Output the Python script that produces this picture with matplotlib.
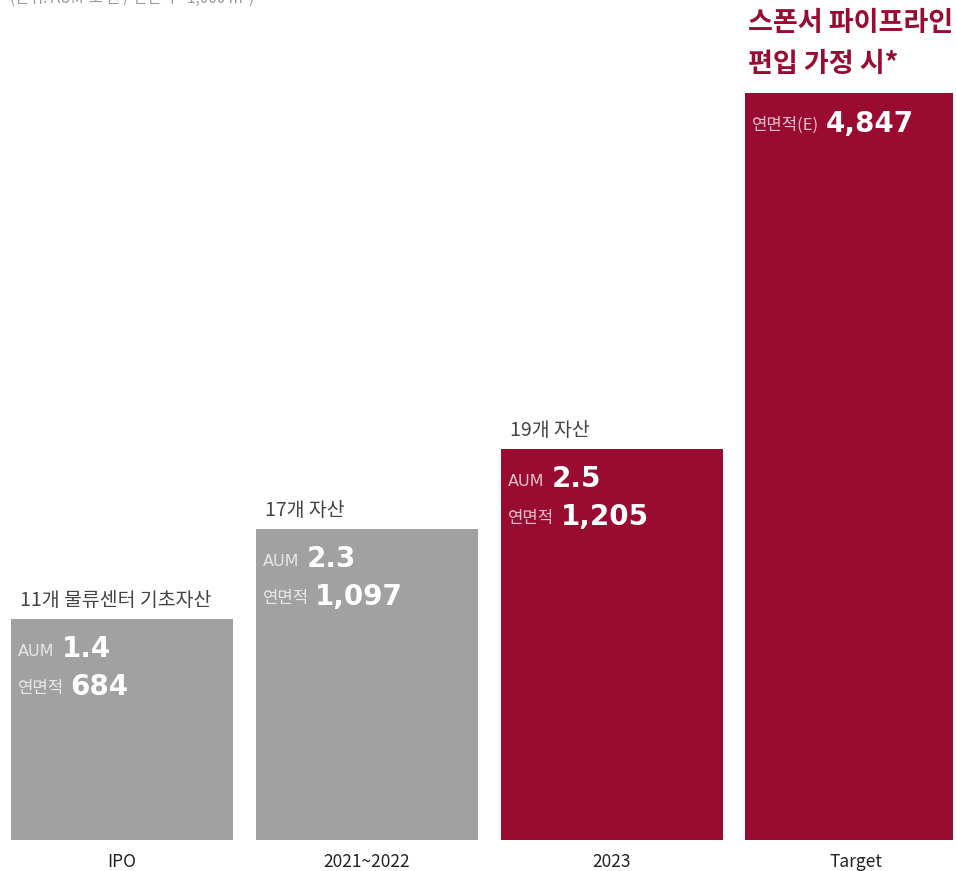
import matplotlib.pyplot as plt

plt.rcParams['font.family'] = ['Noto Sans CJK KR', 'DejaVu Sans']

# data
categories = ['IPO', '2021~2022', '2023', 'Target']
headers = ['11개 물류센터 기초자산', '17개 자산', '19개 자산', None]
aum = ['1.4', '2.3', '2.5', None]
gfa_labels = ['연면적', '연면적', '연면적', '연면적(E)']
gfa = ['684', '1,097', '1,205', '4,847']
# bar heights as drawn in the chart (stylised, not to scale with values)
bar_heights = [221, 311, 391, 747]

grey = '#a0a1a0'
crimson = '#990b31'
colors = [grey, grey, crimson, crimson]

W, H = 957, 871
fig = plt.figure(figsize=(W / 100, H / 100), dpi=100)
base = 840
ax = fig.add_axes([0, (H - base) / H, 953 / W, base / H])
ax.set_xlim(0, 953)
ax.set_ylim(0, base)

centers = [122, 367, 612, 856]
width = 222
ax.bar(centers, bar_heights, width=width, color=colors, zorder=2)

for i, c in enumerate(centers):
    left = c - width / 2
    top = bar_heights[i]
    if headers[i]:
        ax.text(left + 9, top + 19, headers[i], fontsize=14, color='#444444',
                fontweight='medium', va='center', ha='left')
    y = top - 32
    if aum[i]:
        t = ax.annotate('AUM', (left + 7, y), fontsize=11.5, color='white', alpha=0.75,
                        family='DejaVu Sans', va='center', ha='left')
        ax.annotate(aum[i], xy=(1, 0.5), xycoords=t, xytext=(5, 1.5),
                    textcoords='offset points', fontsize=20, fontweight='bold',
                    family='DejaVu Sans', color='white', va='center', ha='left')
        y -= 37
    t = ax.annotate(gfa_labels[i], (left + 7, y), fontsize=12, color='white', alpha=0.75,
                    fontweight='light', va='center', ha='left')
    ax.annotate(gfa[i], xy=(1, 0.5), xycoords=t, xytext=(4.5, 1),
                textcoords='offset points', fontsize=20, fontweight='bold',
                family='DejaVu Sans', color='white', va='center', ha='left')

ax.set_xticks(centers)
ax.set_xticklabels(categories, fontsize=12.5, color='#222222')
ax.tick_params(axis='x', length=0, pad=9)
ax.set_yticks([])
for s in ax.spines.values():
    s.set_visible(False)

fig.text(748 / W, 1 - 23 / H, '스폰서 파이프라인', fontsize=19.5, fontweight='bold',
         color=crimson, va='center', ha='left')
fig.text(748 / W, 1 - 64 / H, '편입 가정 시*', fontsize=19.5, fontweight='bold',
         color=crimson, va='center', ha='left')
fig.text(10 / W, 1 - (-2) / H, '(단위: AUM-조 원 / 연면적 - 1,000 m²)', fontsize=11,
         color='#999999', va='center', ha='left')

fig.savefig('out.png', dpi=100)
